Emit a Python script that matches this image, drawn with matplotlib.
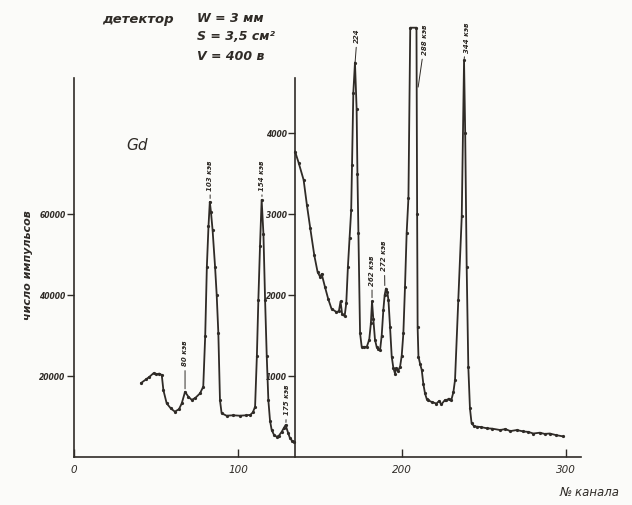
import matplotlib
matplotlib.use("Agg")
import matplotlib.pyplot as plt

# spectrum, left part (scale of the left axis)
left_channels = [41, 44, 46, 48.5, 50, 52, 53.5, 54.5, 56.5, 59, 61.5, 64, 65.7, 67.7, 69.7,
                 71.8, 74, 76.8, 78.8, 80, 81, 82, 82.8, 83.5, 84.5, 86, 87, 88, 89, 90, 93,
                 97, 101, 105, 107.5, 109, 110.4, 111.5, 112.4, 113.4, 114.4, 115.5, 116.5,
                 117.5, 118.5, 119.5, 120.5, 122, 123.6, 125, 126.6, 128, 129, 130.5, 131.7,
                 133, 134.3]
left_counts = [18300, 19200, 19800, 20700, 20400, 20600, 20250, 16500, 13250, 12000, 11200,
               11800, 13250, 16100, 14900, 14100, 14600, 15700, 17360, 30000, 47000, 57000,
               63000, 60500, 56000, 47000, 40000, 30600, 14000, 10800, 10200, 10300, 10200,
               10300, 10400, 11000, 12400, 25000, 38800, 52000, 63500, 55000, 38800, 25000,
               14000, 9000, 6700, 5400, 5000, 5300, 6200, 7200, 7900, 6000, 4600, 4000, 3800]

# spectrum, right part (scale of the inner axis)
right_channels = [134.8, 137, 140, 142, 144, 146.5, 148.5, 150, 151, 153, 155, 157, 160, 161.5,
                  162.5, 163.5, 165, 166, 167, 168, 169, 169.5, 170.3, 171.3, 172.3, 172.8,
                  173.4, 174.4, 175.4, 177, 178.5, 180, 181, 181.7, 182.5, 183.5, 184.5, 185.5,
                  186.6, 187.6, 188.6, 189.4, 190.2, 191, 191.7, 192.7, 193.7, 194.7, 195.7,
                  196.5, 197.5, 198.8, 199.8, 200.8, 201.8, 202.8, 203.9, 205, 208.8, 209.2,
                  209.5, 210, 211, 212, 213, 214, 215, 216, 218, 221, 222.5, 224, 226, 227,
                  228.5, 230, 231.3, 232.3, 234.3, 236.4, 237.8, 238.5, 239.4, 240.4, 241.4,
                  242.4, 244, 245.5, 248, 251.6, 255, 259.8, 263, 266, 270, 274, 277, 280,
                  284, 287, 290, 294, 298]
right_counts = [3770, 3630, 3420, 3110, 2830, 2490, 2285, 2225, 2260, 2100, 1950, 1830, 1790,
                1800, 1920, 1760, 1740, 1900, 2350, 2700, 3050, 3600, 4500, 4870, 4300, 3500,
                2765, 1530, 1360, 1360, 1360, 1450, 1650, 1920, 1700, 1450, 1360, 1330, 1320,
                1500, 1815, 2000, 2080, 2040, 1940, 1600, 1240, 1100, 1030, 1100, 1060, 1115,
                1250, 1525, 2100, 2760, 3200, 5300, 5300, 3000, 1600, 1240, 1150, 1075, 900,
                785, 720, 700, 680, 660, 690, 650, 700, 700, 720, 700, 800, 950, 1940, 2970,
                4900, 4000, 2350, 1115, 600, 415, 380, 375, 370, 355, 350, 333, 345, 320, 333,
                315, 310, 290, 300, 285, 290, 270, 255]

x_ticks = [0, 100, 200, 300]
left_ticks = [20000, 40000, 60000]
right_ticks = [1000, 2000, 3000, 4000]
inner_axis_channel = 135

ink = "#2f2b27"
paper = "#fbfbf9"

fig = plt.figure(figsize=(6.32, 5.05), dpi=100)
fig.set_facecolor(paper)

def px(x, y):
    return x / 632, 1 - y / 505

ax = fig.add_axes([74 / 632, 48 / 505, 558 / 632, 457 / 505])
ax.set_facecolor("none")
ax.set_xlim(0, 340.2)
ax.set_ylim(0, 112840)
for s in ["top", "right"]:
    ax.spines[s].set_visible(False)
ax.spines["left"].set_bounds(0, 93600)
ax.spines["bottom"].set_bounds(0, 309)
for s in ["left", "bottom"]:
    ax.spines[s].set_color(ink)
    ax.spines[s].set_linewidth(1.2)

ax.set_xticks(x_ticks)
ax.set_xticklabels([str(t) for t in x_ticks], fontsize=7.5, style="italic", color=ink)
ax.tick_params(axis="x", direction="in", length=6, width=1, color=ink, pad=6)
ax.set_yticks(left_ticks)
ax.set_yticklabels([str(t) for t in left_ticks], fontsize=5.5, style="italic",
                   fontweight="bold", color=ink)
ax.tick_params(axis="y", direction="out", length=5, width=1, color=ink, pad=1)

ax.plot(left_channels, left_counts, color=ink, lw=1.3, marker="o", ms=1.3)

ax2 = fig.add_axes(ax.get_position(), sharex=ax)
ax2.set_facecolor("none")
ax2.set_ylim(0, 5642)
for s in ["top", "right", "bottom"]:
    ax2.spines[s].set_visible(False)
ax2.spines["left"].set_position(("data", inner_axis_channel))
ax2.spines["left"].set_bounds(0, 4680)
ax2.spines["left"].set_color(ink)
ax2.spines["left"].set_linewidth(1.2)
ax2.set_yticks(right_ticks)
ax2.set_yticklabels([str(t) for t in right_ticks], fontsize=5.5, style="italic",
                    fontweight="bold", color=ink)
ax2.tick_params(axis="y", direction="out", length=5, width=1, color=ink, pad=1)
ax2.tick_params(axis="x", bottom=False, labelbottom=False)

ax2.plot(right_channels, right_counts, color=ink, lw=1.3, marker="o", ms=1.3)

# peak labels
small = dict(fontsize=5, rotation=90, ha="center", va="center", color=ink,
             style="italic", fontweight="bold")
line = dict(arrowstyle="-", lw=0.7, color=ink, shrinkA=1, shrinkB=1)
ax.annotate("80 кэв", xy=(67.7, 16500), xytext=(67.7, 25500), arrowprops=line, **small)
ax.annotate("103 кэв", xy=(83, 63500), xytext=(83, 69500), arrowprops=line, **small)
ax.annotate("154 кэв", xy=(114.6, 64000), xytext=(114.6, 69500), arrowprops=line, **small)
ax.annotate("175 кэв", xy=(129.2, 8200), xytext=(129.6, 14000), arrowprops=line, **small)
ax2.annotate("224", xy=(171.3, 4850), xytext=(172.6, 5200), arrowprops=line, **small)
ax2.annotate("262 кэв", xy=(181.7, 1950), xytext=(181.7, 2300), arrowprops=line, **small)
ax2.annotate("272 кэв", xy=(189.5, 2100), xytext=(189.2, 2480), arrowprops=line, **small)
ax2.annotate("288 кэв", xy=(209.7, 4550), xytext=(214, 5150), arrowprops=line, **small)
ax2.annotate("344 кэв", xy=(237.8, 4900), xytext=(239.4, 5180), arrowprops=line, **small)

# texts
fig.text(*px(138, 20), "детектор", fontsize=9.5, style="italic", fontweight="bold",
         ha="center", va="center", color=ink)
fig.text(*px(197, 18), "W = 3 мм", fontsize=9, style="italic", fontweight="bold",
         ha="left", va="center", color=ink)
fig.text(*px(197, 37), "S = 3,5 см²", fontsize=9, style="italic", fontweight="bold",
         ha="left", va="center", color=ink)
fig.text(*px(197, 56), "V = 400 в", fontsize=9, style="italic", fontweight="bold",
         ha="left", va="center", color=ink)
fig.text(*px(137, 145), "Gd", fontsize=11, style="italic", ha="center", va="center",
         color=ink)
fig.text(*px(28, 265), "число импульсов", fontsize=8, style="italic", fontweight="bold",
         rotation=90, ha="center", va="center", color=ink)
fig.text(*px(590, 492), "№ канала", fontsize=8.5, style="italic", ha="center",
         va="center", color=ink)

fig.savefig("out.png", dpi=100, facecolor=paper)
